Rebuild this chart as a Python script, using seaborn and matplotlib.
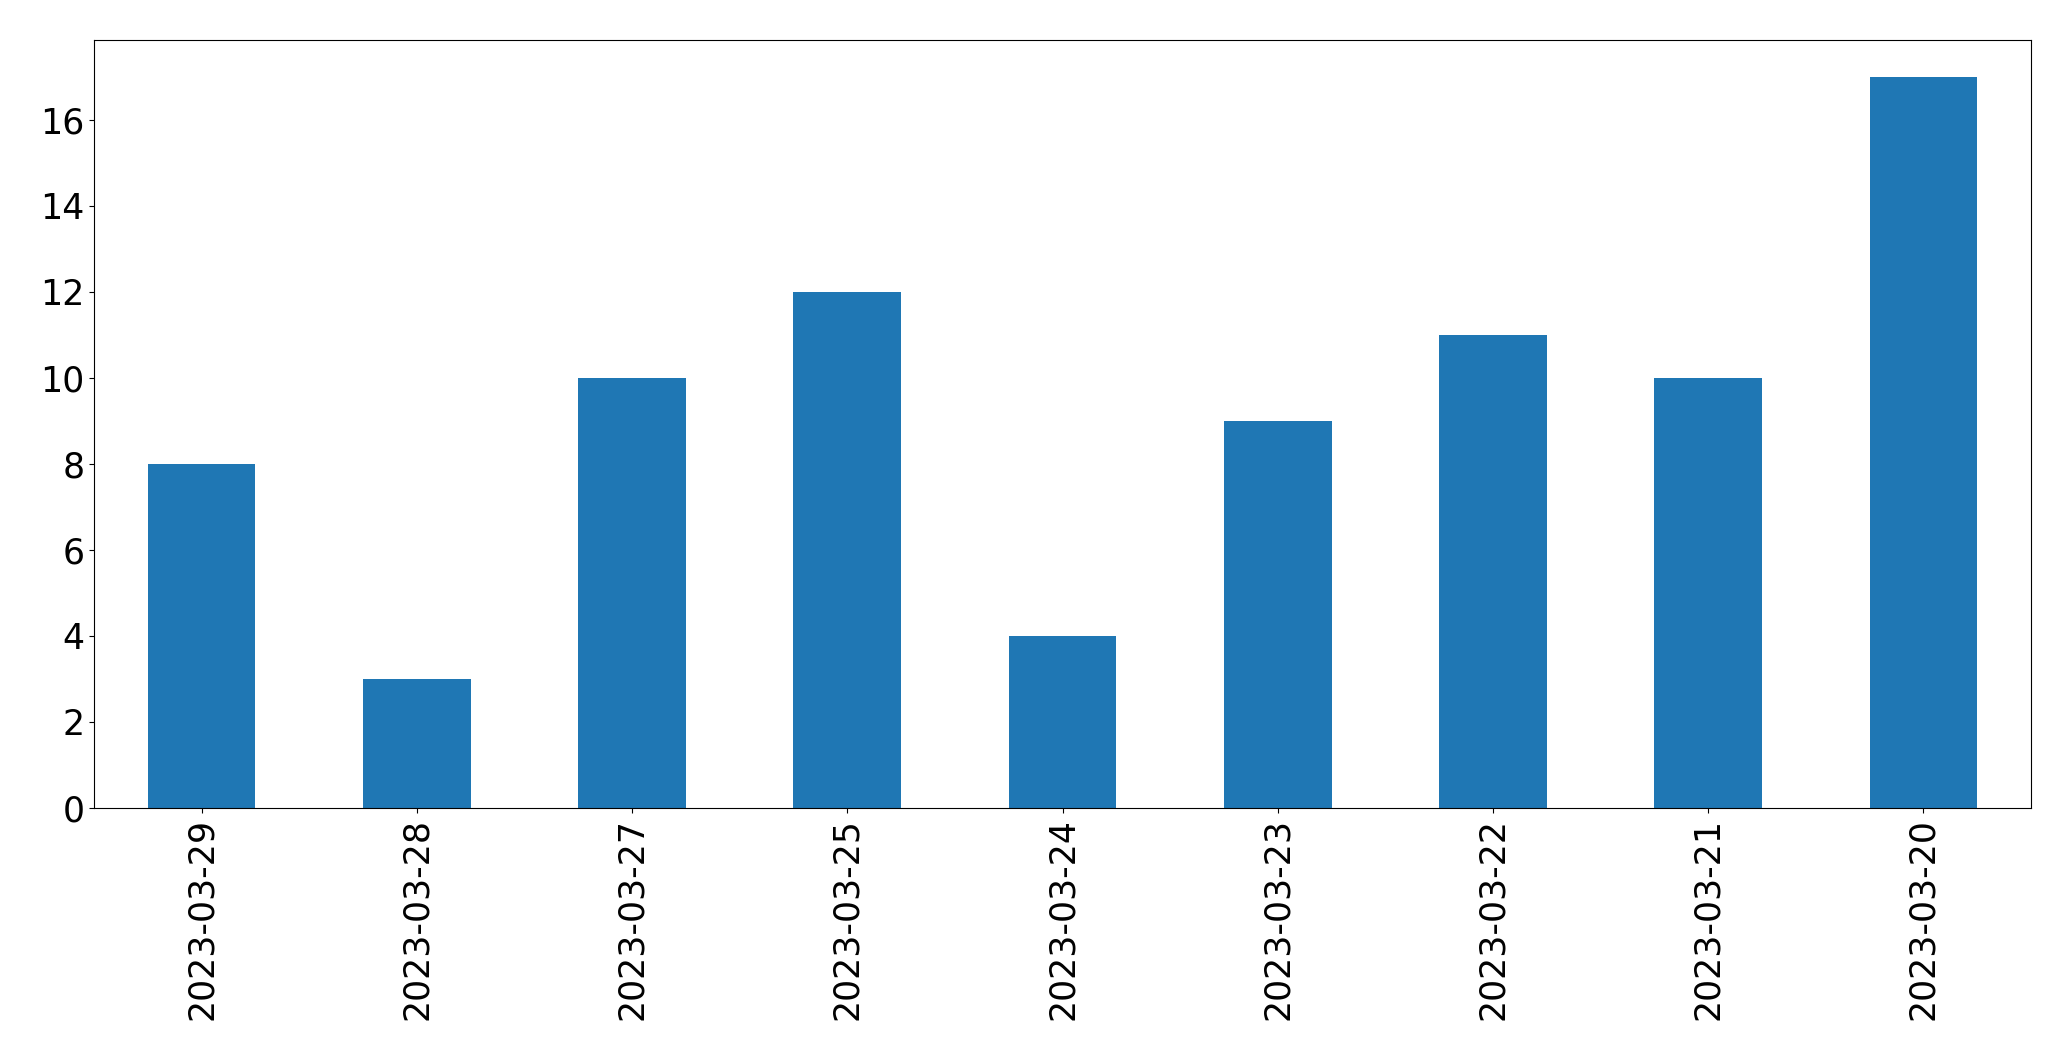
import matplotlib
matplotlib.use("Agg")
import matplotlib.pyplot as plt
import seaborn as sns
import pandas as pd

dates = ["2023-03-29", "2023-03-28", "2023-03-27", "2023-03-25", "2023-03-24",
         "2023-03-23", "2023-03-22", "2023-03-21", "2023-03-20"]
counts = [8, 3, 10, 12, 4, 9, 11, 10, 17]

df = pd.DataFrame({"date": dates, "count": counts})

fig, ax = plt.subplots(figsize=(20.71, 10.61), dpi=100)
fig.subplots_adjust(left=0.0454, right=0.9807, top=0.9623, bottom=0.2385)
sns.barplot(data=df, x="date", y="count", order=dates, color="#1f77b4",
            saturation=1, width=0.5, ax=ax, errorbar=None)
ax.set_xlim(-0.5, len(dates) - 0.5)
ax.set_ylim(0, max(counts) * 1.05)
ax.set_xlabel("")
ax.set_ylabel("")
for s in ax.spines.values():
    s.set_color("black")
ax.tick_params(axis="both", labelsize=25, length=3.5, colors="black")
plt.setp(ax.get_xticklabels(), rotation=90)
fig.savefig("out.png", dpi=100)
